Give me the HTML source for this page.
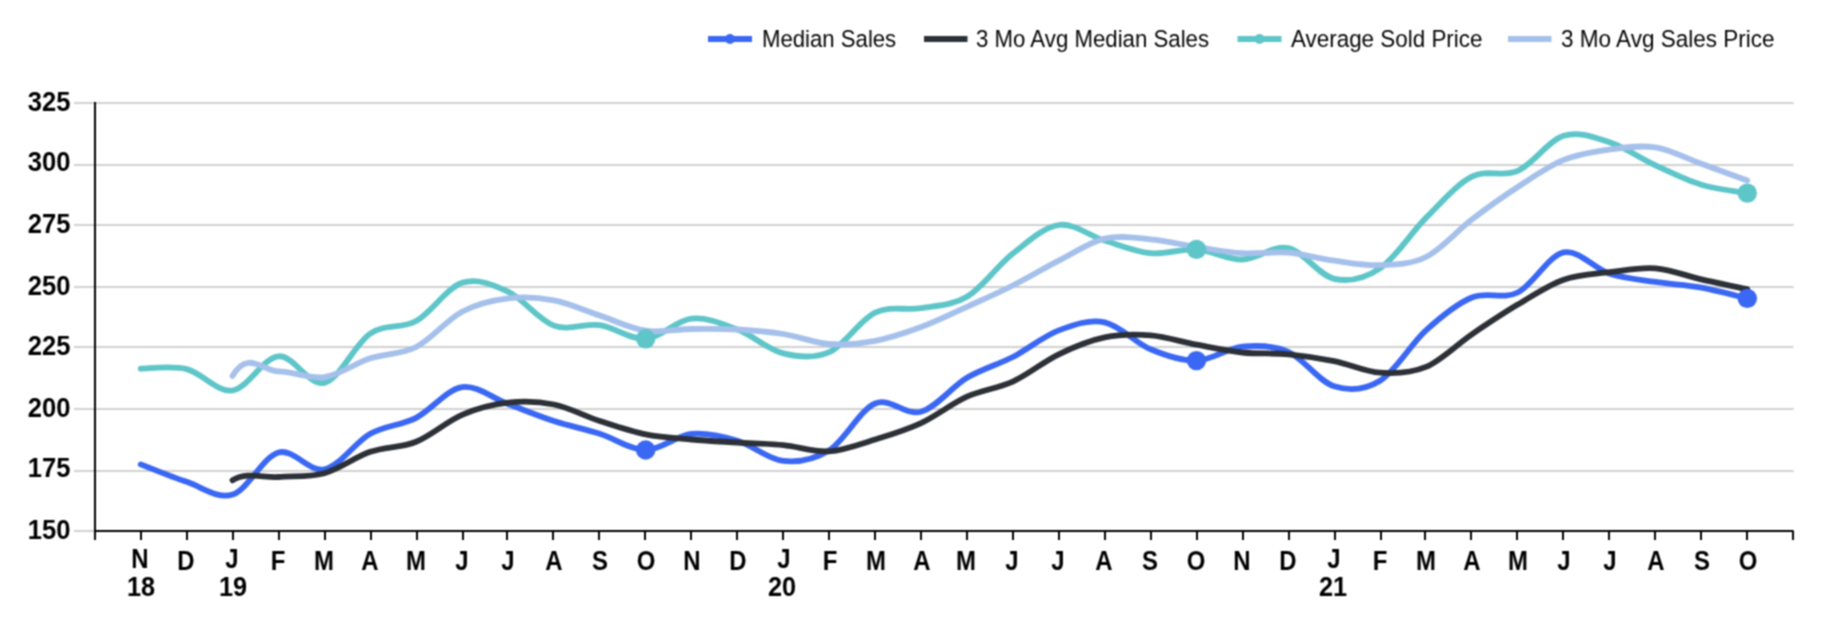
<!DOCTYPE html>
<html><head><meta charset="utf-8"><title>Chart</title>
<style>
html,body{margin:0;padding:0;background:#fff;}
body{width:1842px;height:636px;position:relative;overflow:hidden;font-family:"Liberation Sans",sans-serif;color:#000;}
.yl{position:absolute;left:0;width:70.5px;text-align:right;font-weight:bold;font-size:27.5px;line-height:26px;height:26px;transform:scaleX(0.93);transform-origin:100% 50%;}
.xl{position:absolute;width:60px;text-align:center;font-weight:bold;font-size:27.5px;line-height:28px;height:28px;transform:scaleX(0.87);transform-origin:50% 50%;}
.xl.n{transform:scaleX(0.92);}
.lg{position:absolute;top:26.4px;font-size:24.5px;line-height:26px;white-space:nowrap;transform:scaleX(0.92);transform-origin:0 50%;color:#050505;}
#w{position:absolute;left:0;top:0;width:1842px;height:636px;filter:url(#b);}
#t{position:absolute;left:0;top:0;width:1842px;height:636px;}
</style></head><body><svg width="0" height="0" style="position:absolute"><filter id="b" x="0" y="0" width="100%" height="100%" color-interpolation-filters="sRGB"><feConvolveMatrix order="3" kernelMatrix="1 2 1 2 4 2 1 2 1" divisor="16" edgeMode="duplicate" preserveAlpha="false"/></filter></svg><div id="w">
<svg width="1842" height="636" viewBox="0 0 1842 636" style="position:absolute;left:0;top:0">
<line x1="74" y1="103.00" x2="1793.5" y2="103.00" stroke="#d1d1d1" stroke-width="2"/>
<line x1="74" y1="165.00" x2="1793.5" y2="165.00" stroke="#d1d1d1" stroke-width="2"/>
<line x1="74" y1="225.00" x2="1793.5" y2="225.00" stroke="#d1d1d1" stroke-width="2"/>
<line x1="74" y1="287.00" x2="1793.5" y2="287.00" stroke="#d1d1d1" stroke-width="2"/>
<line x1="74" y1="347.00" x2="1793.5" y2="347.00" stroke="#d1d1d1" stroke-width="2"/>
<line x1="74" y1="409.00" x2="1793.5" y2="409.00" stroke="#d1d1d1" stroke-width="2"/>
<line x1="74" y1="471.00" x2="1793.5" y2="471.00" stroke="#d1d1d1" stroke-width="2"/>
<line x1="74" y1="531.00" x2="96" y2="531.00" stroke="#d1d1d1" stroke-width="2"/>
<g fill="none" stroke-linecap="round" stroke-linejoin="round" stroke-width="5.8">
<path d="M140.76,464.40 C148.41,467.30 171.36,476.77 186.66,481.80 C201.96,486.83 217.26,499.48 232.56,494.60 C247.86,489.72 263.16,456.70 278.46,452.50 C293.76,448.30 309.06,472.52 324.36,469.40 C339.66,466.28 354.96,442.40 370.26,433.80 C385.56,425.20 400.86,425.58 416.16,417.80 C431.46,410.02 446.76,389.40 462.06,387.10 C477.36,384.80 492.66,398.35 507.96,404.00 C523.26,409.65 538.56,416.05 553.86,421.00 C569.16,425.95 584.46,428.87 599.76,433.70 C615.06,438.53 630.36,449.97 645.66,450.00 C660.96,450.03 676.26,435.45 691.56,433.90 C706.86,432.35 722.16,436.20 737.46,440.70 C752.76,445.20 768.06,459.30 783.36,460.90 C798.66,462.50 813.96,459.87 829.26,450.30 C844.56,440.73 859.86,409.92 875.16,403.50 C890.46,397.08 905.76,416.08 921.06,411.80 C936.36,407.52 951.66,386.93 966.96,377.80 C982.26,368.67 997.56,364.90 1012.86,357.00 C1028.16,349.10 1043.46,336.18 1058.76,330.40 C1074.06,324.62 1089.36,319.15 1104.66,322.30 C1119.96,325.45 1135.26,342.92 1150.56,349.30 C1165.86,355.68 1181.16,361.03 1196.46,360.60 C1211.76,360.17 1227.06,348.17 1242.36,346.70 C1257.66,345.23 1272.96,345.20 1288.26,351.80 C1303.56,358.40 1318.86,381.48 1334.16,386.30 C1349.46,391.12 1364.76,390.02 1380.06,380.70 C1395.36,371.38 1410.66,344.27 1425.96,330.40 C1441.26,316.53 1456.56,303.82 1471.86,297.50 C1487.16,291.18 1502.46,300.02 1517.76,292.50 C1533.06,284.98 1548.36,255.52 1563.66,252.40 C1578.96,249.28 1594.26,268.88 1609.56,273.80 C1624.86,278.72 1640.16,279.60 1655.46,281.90 C1670.76,284.20 1686.06,284.85 1701.36,287.60 C1716.66,290.35 1739.61,296.60 1747.26,298.40" stroke="#3a67f3"/>
<path d="M232.56,480.20 C247.86,471.20 263.16,478.17 278.46,477.00 C293.76,475.83 309.06,477.40 324.36,473.20 C339.66,469.00 354.96,457.05 370.26,451.80 C385.56,446.55 400.86,447.87 416.16,441.70 C431.46,435.53 446.76,421.30 462.06,414.80 C477.36,408.30 492.66,404.42 507.96,402.70 C523.26,400.98 538.56,401.45 553.86,404.50 C569.16,407.55 584.46,416.02 599.76,421.00 C615.06,425.98 630.36,431.32 645.66,434.40 C660.96,437.48 676.26,438.15 691.56,439.50 C706.86,440.85 722.16,441.55 737.46,442.50 C752.76,443.45 768.06,443.73 783.36,445.20 C798.66,446.67 813.96,452.25 829.26,451.30 C844.56,450.35 859.86,444.20 875.16,439.50 C890.46,434.80 905.76,430.23 921.06,423.10 C936.36,415.97 951.66,403.62 966.96,396.70 C982.26,389.78 997.56,388.67 1012.86,381.60 C1028.16,374.53 1043.46,361.67 1058.76,354.30 C1074.06,346.93 1089.36,340.55 1104.66,337.40 C1119.96,334.25 1135.26,334.18 1150.56,335.40 C1165.86,336.62 1181.16,341.85 1196.46,344.70 C1211.76,347.55 1227.06,350.90 1242.36,352.50 C1257.66,354.10 1272.96,352.87 1288.26,354.30 C1303.56,355.73 1318.86,358.03 1334.16,361.10 C1349.46,364.17 1364.76,371.73 1380.06,372.70 C1395.36,373.67 1410.66,373.30 1425.96,366.90 C1441.26,360.50 1456.56,344.68 1471.86,334.30 C1487.16,323.92 1502.46,313.70 1517.76,304.60 C1533.06,295.50 1548.36,285.10 1563.66,279.70 C1578.96,274.30 1594.26,274.10 1609.56,272.20 C1624.86,270.30 1640.16,267.12 1655.46,268.30 C1670.76,269.48 1686.06,275.82 1701.36,279.30 C1716.66,282.78 1739.61,287.55 1747.26,289.20" stroke="#2c3037"/>
<path d="M140.76,368.60 C148.41,368.68 171.36,365.45 186.66,369.10 C201.96,372.75 217.26,392.63 232.56,390.50 C247.86,388.37 263.16,357.57 278.46,356.30 C293.76,355.03 309.06,386.68 324.36,382.90 C339.66,379.12 354.96,343.92 370.26,333.60 C385.56,323.28 400.86,329.47 416.16,321.00 C431.46,312.53 446.76,287.70 462.06,282.80 C477.36,277.90 492.66,284.47 507.96,291.60 C523.26,298.73 538.56,320.00 553.86,325.60 C569.16,331.20 584.46,323.00 599.76,325.20 C615.06,327.40 630.36,339.90 645.66,338.80 C660.96,337.70 676.26,320.15 691.56,318.60 C706.86,317.05 722.16,323.70 737.46,329.50 C752.76,335.30 768.06,349.63 783.36,353.40 C798.66,357.17 813.96,358.90 829.26,352.10 C844.56,345.30 859.86,319.93 875.16,312.60 C890.46,305.27 905.76,310.75 921.06,308.10 C936.36,305.45 951.66,305.80 966.96,296.70 C982.26,287.60 997.56,265.45 1012.86,253.50 C1028.16,241.55 1043.46,227.15 1058.76,225.00 C1074.06,222.85 1089.36,235.90 1104.66,240.60 C1119.96,245.30 1135.26,251.73 1150.56,253.20 C1165.86,254.67 1181.16,248.35 1196.46,249.40 C1211.76,250.45 1227.06,259.72 1242.36,259.50 C1257.66,259.28 1272.96,244.88 1288.26,248.10 C1303.56,251.32 1318.86,275.43 1334.16,278.80 C1349.46,282.17 1364.76,278.45 1380.06,268.30 C1395.36,258.15 1410.66,233.17 1425.96,217.90 C1441.26,202.63 1456.56,184.53 1471.86,176.70 C1487.16,168.87 1502.46,177.73 1517.76,170.90 C1533.06,164.07 1548.36,140.47 1563.66,135.70 C1578.96,130.93 1594.26,137.35 1609.56,142.30 C1624.86,147.25 1640.16,158.32 1655.46,165.40 C1670.76,172.48 1686.06,180.18 1701.36,184.80 C1716.66,189.42 1739.61,191.72 1747.26,193.10" stroke="#5ec5c8"/>
<path d="M232.56,375.90 C247.86,349.30 263.16,371.20 278.46,371.40 C293.76,371.60 309.06,379.28 324.36,377.10 C339.66,374.92 354.96,363.32 370.26,358.30 C385.56,353.28 400.86,354.77 416.16,347.00 C431.46,339.23 446.76,319.80 462.06,311.70 C477.36,303.60 492.66,300.28 507.96,298.40 C523.26,296.52 538.56,297.53 553.86,300.40 C569.16,303.27 584.46,310.55 599.76,315.60 C615.06,320.65 630.36,328.47 645.66,330.70 C660.96,332.93 676.26,329.20 691.56,329.00 C706.86,328.80 722.16,328.67 737.46,329.50 C752.76,330.33 768.06,331.58 783.36,334.00 C798.66,336.42 813.96,342.87 829.26,344.00 C844.56,345.13 859.86,343.63 875.16,340.80 C890.46,337.97 905.76,332.67 921.06,327.00 C936.36,321.33 951.66,313.72 966.96,306.80 C982.26,299.88 997.56,293.18 1012.86,285.50 C1028.16,277.82 1043.46,268.52 1058.76,260.70 C1074.06,252.88 1089.36,242.17 1104.66,238.60 C1119.96,235.03 1135.26,237.92 1150.56,239.30 C1165.86,240.68 1181.16,244.58 1196.46,246.90 C1211.76,249.22 1227.06,252.23 1242.36,253.20 C1257.66,254.17 1272.96,251.45 1288.26,252.70 C1303.56,253.95 1318.86,258.62 1334.16,260.70 C1349.46,262.78 1364.76,265.82 1380.06,265.20 C1395.36,264.58 1410.66,264.62 1425.96,257.00 C1441.26,249.38 1456.56,231.17 1471.86,219.50 C1487.16,207.83 1502.46,196.93 1517.76,187.00 C1533.06,177.07 1548.36,166.15 1563.66,159.90 C1578.96,153.65 1594.26,151.60 1609.56,149.50 C1624.86,147.40 1640.16,144.92 1655.46,147.30 C1670.76,149.68 1686.06,158.28 1701.36,163.80 C1716.66,169.32 1739.61,177.63 1747.26,180.40" stroke="#a5c0ea"/>
</g>
<circle cx="645.66" cy="450.00" r="9.7" fill="#3a67f3"/>
<circle cx="645.66" cy="338.80" r="9.7" fill="#5ec5c8"/>
<circle cx="1196.46" cy="360.60" r="9.7" fill="#3a67f3"/>
<circle cx="1196.46" cy="249.40" r="9.7" fill="#5ec5c8"/>
<circle cx="1747.26" cy="298.40" r="9.7" fill="#3a67f3"/>
<circle cx="1747.26" cy="193.10" r="9.7" fill="#5ec5c8"/>
</svg>
<svg width="1842" height="636" viewBox="0 0 1842 636" style="position:absolute;left:0;top:0">
<line x1="95" y1="102" x2="95" y2="532" stroke="#000" stroke-width="2"/>
<line x1="94" y1="531" x2="1793.6" y2="531" stroke="#000" stroke-width="2"/>
<line x1="95.00" y1="531" x2="95.00" y2="540" stroke="#000" stroke-width="2"/>
<line x1="141.00" y1="531" x2="141.00" y2="540" stroke="#000" stroke-width="2"/>
<line x1="187.00" y1="531" x2="187.00" y2="540" stroke="#000" stroke-width="2"/>
<line x1="233.00" y1="531" x2="233.00" y2="540" stroke="#000" stroke-width="2"/>
<line x1="279.00" y1="531" x2="279.00" y2="540" stroke="#000" stroke-width="2"/>
<line x1="325.00" y1="531" x2="325.00" y2="540" stroke="#000" stroke-width="2"/>
<line x1="371.00" y1="531" x2="371.00" y2="540" stroke="#000" stroke-width="2"/>
<line x1="417.00" y1="531" x2="417.00" y2="540" stroke="#000" stroke-width="2"/>
<line x1="463.00" y1="531" x2="463.00" y2="540" stroke="#000" stroke-width="2"/>
<line x1="507.00" y1="531" x2="507.00" y2="540" stroke="#000" stroke-width="2"/>
<line x1="553.00" y1="531" x2="553.00" y2="540" stroke="#000" stroke-width="2"/>
<line x1="599.00" y1="531" x2="599.00" y2="540" stroke="#000" stroke-width="2"/>
<line x1="645.00" y1="531" x2="645.00" y2="540" stroke="#000" stroke-width="2"/>
<line x1="691.00" y1="531" x2="691.00" y2="540" stroke="#000" stroke-width="2"/>
<line x1="737.00" y1="531" x2="737.00" y2="540" stroke="#000" stroke-width="2"/>
<line x1="783.00" y1="531" x2="783.00" y2="540" stroke="#000" stroke-width="2"/>
<line x1="829.00" y1="531" x2="829.00" y2="540" stroke="#000" stroke-width="2"/>
<line x1="875.00" y1="531" x2="875.00" y2="540" stroke="#000" stroke-width="2"/>
<line x1="921.00" y1="531" x2="921.00" y2="540" stroke="#000" stroke-width="2"/>
<line x1="967.00" y1="531" x2="967.00" y2="540" stroke="#000" stroke-width="2"/>
<line x1="1013.00" y1="531" x2="1013.00" y2="540" stroke="#000" stroke-width="2"/>
<line x1="1059.00" y1="531" x2="1059.00" y2="540" stroke="#000" stroke-width="2"/>
<line x1="1105.00" y1="531" x2="1105.00" y2="540" stroke="#000" stroke-width="2"/>
<line x1="1151.00" y1="531" x2="1151.00" y2="540" stroke="#000" stroke-width="2"/>
<line x1="1197.00" y1="531" x2="1197.00" y2="540" stroke="#000" stroke-width="2"/>
<line x1="1243.00" y1="531" x2="1243.00" y2="540" stroke="#000" stroke-width="2"/>
<line x1="1289.00" y1="531" x2="1289.00" y2="540" stroke="#000" stroke-width="2"/>
<line x1="1335.00" y1="531" x2="1335.00" y2="540" stroke="#000" stroke-width="2"/>
<line x1="1381.00" y1="531" x2="1381.00" y2="540" stroke="#000" stroke-width="2"/>
<line x1="1425.00" y1="531" x2="1425.00" y2="540" stroke="#000" stroke-width="2"/>
<line x1="1471.00" y1="531" x2="1471.00" y2="540" stroke="#000" stroke-width="2"/>
<line x1="1517.00" y1="531" x2="1517.00" y2="540" stroke="#000" stroke-width="2"/>
<line x1="1563.00" y1="531" x2="1563.00" y2="540" stroke="#000" stroke-width="2"/>
<line x1="1609.00" y1="531" x2="1609.00" y2="540" stroke="#000" stroke-width="2"/>
<line x1="1655.00" y1="531" x2="1655.00" y2="540" stroke="#000" stroke-width="2"/>
<line x1="1701.00" y1="531" x2="1701.00" y2="540" stroke="#000" stroke-width="2"/>
<line x1="1747.00" y1="531" x2="1747.00" y2="540" stroke="#000" stroke-width="2"/>
<line x1="1793.00" y1="531" x2="1793.00" y2="540" stroke="#000" stroke-width="2"/>
</svg>
<svg width="1842" height="636" viewBox="0 0 1842 636" style="position:absolute;left:0;top:0">
<line x1="708" y1="39" x2="752" y2="39" stroke="#3a67f3" stroke-width="6"/>
<circle cx="730.0" cy="39" r="5" fill="#3a67f3"/>
<line x1="924" y1="39" x2="967.5" y2="39" stroke="#2c3037" stroke-width="6"/>
<line x1="1237.5" y1="39" x2="1281.5" y2="39" stroke="#5ec5c8" stroke-width="6"/>
<circle cx="1259.5" cy="39" r="5" fill="#5ec5c8"/>
<line x1="1508" y1="39" x2="1551.5" y2="39" stroke="#a5c0ea" stroke-width="6"/>
</svg>
<div id="t">
<div class="yl" style="top:89.1px">325</div>
<div class="yl" style="top:149.1px">300</div>
<div class="yl" style="top:211.1px">275</div>
<div class="yl" style="top:273.1px">250</div>
<div class="yl" style="top:333.1px">225</div>
<div class="yl" style="top:395.1px">200</div>
<div class="yl" style="top:455.1px">175</div>
<div class="yl" style="top:517.1px">150</div>
<div class="xl" style="left:109.5px;top:545.0px">N</div>
<div class="xl n" style="left:111.0px;top:573.0px">18</div>
<div class="xl" style="left:155.5px;top:547.1px">D</div>
<div class="xl" style="left:201.5px;top:545.0px">J</div>
<div class="xl n" style="left:203.3px;top:573.0px">19</div>
<div class="xl" style="left:247.5px;top:547.1px">F</div>
<div class="xl" style="left:293.5px;top:547.1px">M</div>
<div class="xl" style="left:339.5px;top:547.1px">A</div>
<div class="xl" style="left:385.5px;top:547.1px">M</div>
<div class="xl" style="left:431.5px;top:547.1px">J</div>
<div class="xl" style="left:477.5px;top:547.1px">J</div>
<div class="xl" style="left:523.5px;top:547.1px">A</div>
<div class="xl" style="left:569.5px;top:547.1px">S</div>
<div class="xl" style="left:615.5px;top:547.1px">O</div>
<div class="xl" style="left:661.5px;top:547.1px">N</div>
<div class="xl" style="left:707.5px;top:547.1px">D</div>
<div class="xl" style="left:753.5px;top:545.0px">J</div>
<div class="xl n" style="left:751.8px;top:573.0px">20</div>
<div class="xl" style="left:799.5px;top:547.1px">F</div>
<div class="xl" style="left:845.5px;top:547.1px">M</div>
<div class="xl" style="left:891.5px;top:547.1px">A</div>
<div class="xl" style="left:935.5px;top:547.1px">M</div>
<div class="xl" style="left:981.5px;top:547.1px">J</div>
<div class="xl" style="left:1027.5px;top:547.1px">J</div>
<div class="xl" style="left:1073.5px;top:547.1px">A</div>
<div class="xl" style="left:1119.5px;top:547.1px">S</div>
<div class="xl" style="left:1165.5px;top:547.1px">O</div>
<div class="xl" style="left:1211.5px;top:547.1px">N</div>
<div class="xl" style="left:1257.5px;top:547.1px">D</div>
<div class="xl" style="left:1303.5px;top:545.0px">J</div>
<div class="xl n" style="left:1303.0px;top:573.0px">21</div>
<div class="xl" style="left:1349.5px;top:547.1px">F</div>
<div class="xl" style="left:1395.5px;top:547.1px">M</div>
<div class="xl" style="left:1441.5px;top:547.1px">A</div>
<div class="xl" style="left:1487.5px;top:547.1px">M</div>
<div class="xl" style="left:1533.5px;top:547.1px">J</div>
<div class="xl" style="left:1579.5px;top:547.1px">J</div>
<div class="xl" style="left:1625.5px;top:547.1px">A</div>
<div class="xl" style="left:1671.5px;top:547.1px">S</div>
<div class="xl" style="left:1717.5px;top:547.1px">O</div>
<div class="lg" style="left:761.6px;transform:scaleX(0.904)">Median Sales</div>
<div class="lg" style="left:976.2px;transform:scaleX(0.907)">3 Mo Avg Median Sales</div>
<div class="lg" style="left:1291.3px;transform:scaleX(0.915)">Average Sold Price</div>
<div class="lg" style="left:1561.0px;transform:scaleX(0.919)">3 Mo Avg Sales Price</div>
</div></div></body></html>
